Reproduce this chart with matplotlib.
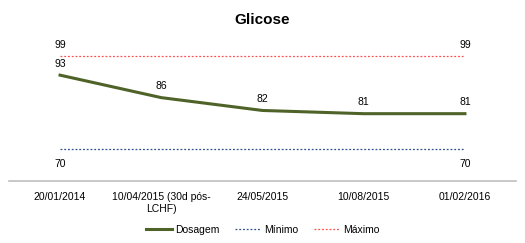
import matplotlib.pyplot as plt

# dados
datas = ["20/01/2014", "10/04/2015 (30d pós-\nLCHF)", "24/05/2015", "10/08/2015", "01/02/2016"]
dosagem = [93, 86, 82, 81, 81]
minimo = [70, 70, 70, 70, 70]
maximo = [99, 99, 99, 99, 99]

plt.rcParams['font.family'] = ['Liberation Sans', 'DejaVu Sans']

fig = plt.figure(figsize=(5.25, 2.43), dpi=100)
ax = fig.add_axes([0.018, 0.2547, 0.964, 0.621])

x = range(len(datas))
ax.plot(x, dosagem, color='#4f6228', lw=2.2, label='Dosagem')
ax.plot(x, minimo, color='#2f4f8f', lw=0.9, ls=(0, (1.5, 1.5)), label='Mínimo')
ax.plot(x, maximo, color='#ff5050', lw=0.9, ls=(0, (1.5, 1.5)), label='Máximo')

for i, v in enumerate(dosagem):
    ax.annotate(str(v), (i, v), xytext=(0, 4.5), textcoords='offset points',
                ha='center', va='bottom', fontsize=7.5)
for i in (0, len(datas) - 1):
    ax.annotate(str(maximo[i]), (i, maximo[i]), xytext=(0, 4.5), textcoords='offset points',
                ha='center', va='bottom', fontsize=7.5)
    ax.annotate(str(minimo[i]), (i, minimo[i]), xytext=(0, -7.5), textcoords='offset points',
                ha='center', va='top', fontsize=7.5)

ax.set_xlim(-0.5, len(datas) - 0.5)
ax.set_ylim(60, 107)
ax.set_xticks(list(x))
ax.set_xticklabels(datas, fontsize=7.5)
ax.tick_params(axis='x', length=0, pad=8)
ax.set_yticks([])
for s in ['top', 'right', 'left']:
    ax.spines[s].set_visible(False)
ax.spines['bottom'].set_color('#bfbfbf')
ax.spines['bottom'].set_linewidth(1.2)

fig.text(0.5, 0.918, "Glicose", ha='center', va='center', fontsize=11, fontweight='bold')

fig.legend(loc='center', bbox_to_anchor=(0.5, 0.055), ncol=3, frameon=False,
           fontsize=7.5, handlelength=2.5, handletextpad=0.3, columnspacing=1.5)

fig.savefig("out.png", dpi=100)
